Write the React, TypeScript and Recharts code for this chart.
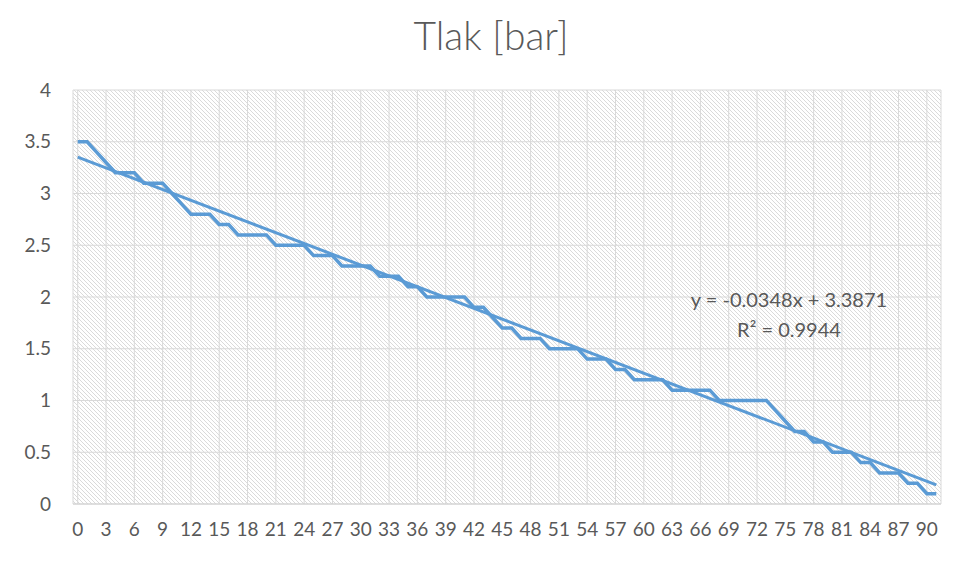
import React from 'react';
import { LineChart, Line, XAxis, YAxis, CartesianGrid, ReferenceLine } from 'recharts';

// measurement index (0..91)
const indices = Array.from({ length: 92 }, (_, i) => i);

// pressure readings [bar]
const pressure = [
  3.5, 3.5, 3.4, 3.3, 3.2, 3.2, 3.2, 3.1, 3.1, 3.1,
  3.0, 2.9, 2.8, 2.8, 2.8, 2.7, 2.7, 2.6, 2.6, 2.6,
  2.6, 2.5, 2.5, 2.5, 2.5, 2.4, 2.4, 2.4, 2.3, 2.3,
  2.3, 2.3, 2.2, 2.2, 2.2, 2.1, 2.1, 2.0, 2.0, 2.0,
  2.0, 2.0, 1.9, 1.9, 1.8, 1.7, 1.7, 1.6, 1.6, 1.6,
  1.5, 1.5, 1.5, 1.5, 1.4, 1.4, 1.4, 1.3, 1.3, 1.2,
  1.2, 1.2, 1.2, 1.1, 1.1, 1.1, 1.1, 1.1, 1.0, 1.0,
  1.0, 1.0, 1.0, 1.0, 0.9, 0.8, 0.7, 0.7, 0.6, 0.6,
  0.5, 0.5, 0.5, 0.4, 0.4, 0.3, 0.3, 0.3, 0.2, 0.2,
  0.1, 0.1,
];

const xTicks = Array.from({ length: 31 }, (_, i) => i * 3);
const yTicks = [0, 0.5, 1, 1.5, 2, 2.5, 3, 3.5, 4];

// linear trendline as shown in the chart (Excel uses x = 1..n)
const trendSlope = -0.0348;
const trendIntercept = 3.3871;

const data = indices.map((x, i) => ({ x, p: pressure[i] }));

const trendSegment = [
  { x: indices[0], y: trendIntercept + trendSlope * (indices[0] + 1) },
  { x: indices[indices.length - 1], y: trendIntercept + trendSlope * (indices[indices.length - 1] + 1) },
];

const font = 'Lato, "Open Sans", sans-serif';
const grey = '#595959';
const blue = '#5B9BD5';

export default function App() {
  return (
    <div style={{ position: 'absolute', left: 0, top: 0, width: 962, height: 562, background: '#fff', fontFamily: font }}>
      <div style={{ position: 'absolute', left: 0, top: 12, width: 982, textAlign: 'center', fontSize: 39, color: grey, fontWeight: 300 }}>
        Tlak [bar]
      </div>
      <LineChart width={962} height={562} data={data} margin={{ top: 90, right: 21, bottom: 28, left: 0 }}>
        <defs>
          <pattern id="hatch" patternUnits="userSpaceOnUse" width="4" height="4">
            <rect width="4" height="4" fill="#ffffff" />
            <path d="M-1,-1 L5,5 M-1,3 L1,5 M3,-1 L5,1" stroke="#dadada" strokeWidth="1" />
          </pattern>
        </defs>
        <CartesianGrid fill="url(#hatch)" stroke="#d9d9d9" fillOpacity={1} />
        <XAxis
          dataKey="x"
          type="number"
          domain={[-0.5, 91.5]}
          ticks={xTicks}
          interval={0}
          height={30}
          tickLine={false}
          axisLine={{ stroke: '#d0d0d0' }}
          tickMargin={13}
          tick={{ fill: grey, fontSize: 19, fontFamily: font }}
        />
        <YAxis
          type="number"
          domain={[0, 4]}
          ticks={yTicks}
          width={73}
          tickLine={false}
          axisLine={false}
          tickMargin={16}
          tick={{ fill: grey, fontSize: 19, fontFamily: font }}
        />
        <ReferenceLine segment={trendSegment} stroke={blue} strokeWidth={3} ifOverflow="extendDomain" />
        <Line
          type="linear"
          dataKey="p"
          stroke={blue}
          strokeWidth={3.5}
          dot={false}
          isAnimationActive={false}
        />
      </LineChart>
      <div style={{ position: 'absolute', left: 680, top: 284, fontSize: 20, color: grey, lineHeight: '30px', textAlign: 'center', width: 218 }}>
        y = -0.0348x + 3.3871
        <br />
        R² = 0.9944
      </div>
    </div>
  );
}
